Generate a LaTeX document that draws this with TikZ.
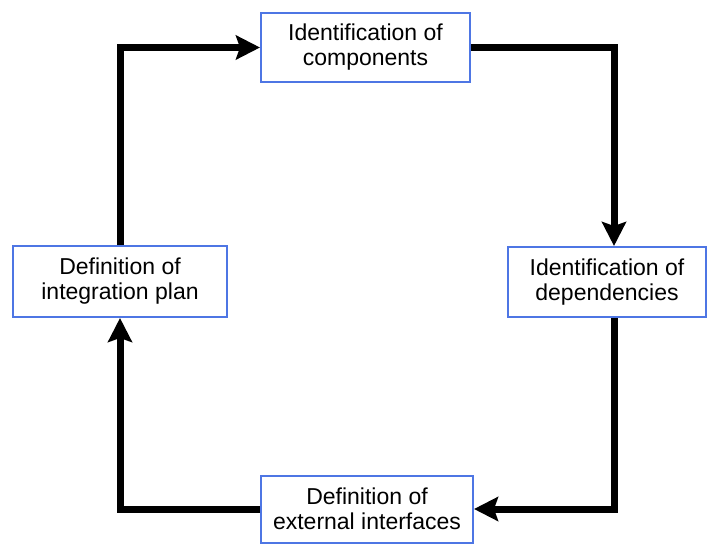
\documentclass[tikz,border=0pt]{standalone}
\usepackage{fontspec}
\setmainfont{Liberation Sans}
\usetikzlibrary{arrows.meta}
\definecolor{boxblue}{RGB}{78,118,228}
\tikzset{
  stage/.style={draw=boxblue, line width=2pt, fill=white, align=center,
    inner sep=0pt, font=\fontsize{23}{25}\selectfont},
  flow/.style={line width=7pt, line join=miter,
    -{Stealth[length=24pt,width=24pt,inset=4pt]}}
}
\begin{document}
\begin{tikzpicture}[x=1pt,y=-1pt]
  \useasboundingbox (0,0) rectangle (708,546);
  % process stages
  \node[stage, minimum width=209pt, minimum height=69pt] (comp) at (365.5,47.5)
    {Identification of\\components};
  \node[stage, minimum width=198pt, minimum height=70pt] (deps) at (607,282)
    {Identification of\\dependencies};
  \node[stage, minimum width=212pt, minimum height=67pt] (ext) at (367,509)
    {Definition of\\external interfaces};
  \node[stage, minimum width=214pt, minimum height=71pt] (plan) at (120,281.5)
    {Definition of\\integration plan};
  % column of the right-hand vertical run
  \coordinate (rcol) at (614,0);
  % cycle connectors
  \draw[flow] (plan.north) |- (comp.west);
  \draw[flow] (comp.east) -| (rcol |- deps.north);
  \draw[flow] (rcol |- deps.south) |- (ext.east);
  \draw[flow] (ext.west) -| (plan.south);
\end{tikzpicture}
\end{document}
